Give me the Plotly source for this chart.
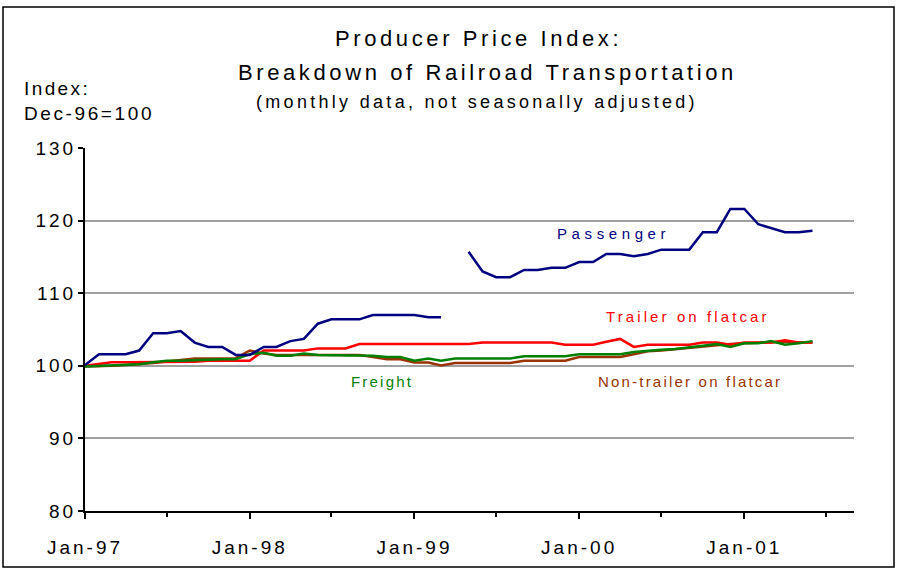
import pandas as pd
import plotly.graph_objects as go

# Monthly observations, Jan-97 through Jun-01 (index, Dec-96 = 100)
months = pd.date_range("1997-01-01", periods=54, freq="MS")

passenger = [
    100.1, 101.6, 101.6, 101.6, 102.1, 104.5, 104.5, 104.8, 103.2, 102.6, 102.6, 101.5,
    101.5, 102.6, 102.6, 103.4, 103.7, 105.8, 106.4, 106.4, 106.4, 107.0, 107.0, 107.0,
    107.0, 106.7, 106.7, None, 115.7, 113.0, 112.2, 112.2, 113.2, 113.2, 113.5, 113.5,
    114.3, 114.3, 115.4, 115.4, 115.1, 115.4, 116.0, 116.0, 116.0, 118.4, 118.4, 121.6,
    121.6, 119.5, 119.0, 118.4, 118.4, 118.6,
]
trailer_on_flatcar = [
    100.0, 100.25, 100.5, 100.5, 100.5, 100.5, 100.5, 100.5, 100.55, 100.7, 100.7, 100.7,
    100.7, 102.1, 102.1, 102.1, 102.1, 102.4, 102.4, 102.4, 103.0, 103.0, 103.0, 103.0,
    103.0, 103.0, 103.0, 103.0, 103.0, 103.2, 103.2, 103.2, 103.2, 103.2, 103.2, 102.9,
    102.9, 102.9, 103.3, 103.7, 102.6, 102.9, 102.9, 102.9, 102.9, 103.2, 103.2, 102.9,
    103.2, 103.2, 103.2, 103.5, 103.2, 103.2,
]
freight = [
    99.9, 100.0, 100.05, 100.1, 100.2, 100.5, 100.7, 100.7, 100.8, 100.9, 100.9, 100.9,
    101.6, 101.8, 101.4, 101.4, 101.7, 101.5, 101.5, 101.5, 101.5, 101.4, 101.2, 101.2,
    100.7, 101.0, 100.7, 101.0, 101.0, 101.0, 101.0, 101.0, 101.3, 101.3, 101.3, 101.3,
    101.6, 101.6, 101.6, 101.6, 101.9, 102.1, 102.2, 102.3, 102.5, 102.75, 103.0, 102.6,
    103.1, 103.1, 103.4, 102.9, 103.1, 103.4,
]
non_trailer_on_flatcar = [
    99.9, 99.9, 100.0, 100.1, 100.2, 100.4, 100.6, 100.8, 101.0, 101.0, 101.0, 101.05,
    102.1, 101.7, 101.5, 101.5, 101.5, 101.5, 101.5, 101.5, 101.5, 101.2, 100.9, 100.9,
    100.45, 100.45, 100.05, 100.4, 100.4, 100.4, 100.4, 100.4, 100.7, 100.7, 100.7, 100.7,
    101.2, 101.2, 101.2, 101.2, 101.6, 102.0, 102.1, 102.3, 102.4, 102.6, 102.8, 103.0,
    103.1, 103.2, 103.2, 103.3, 103.2, 103.2,
]

x_tick_dates = ["1997-01-01", "1998-01-01", "1999-01-01", "2000-01-01", "2001-01-01"]
x_tick_labels = ["Jan-97", "Jan-98", "Jan-99", "Jan-00", "Jan-01"]
y_ticks = [80, 90, 100, 110, 120, 130]

NAVY, RED, GREEN, BROWN = "#000080", "#ff0000", "#008000", "#993300"
FONT = "Liberation Sans, Arial, sans-serif"

W, H = 900, 570
L, R, T, B = 85, 854, 148, 511  # plot area in pixels


def px(xp):
    return (xp - L) / (R - L)


def py(yp):
    return (B - yp) / (B - T)


def spaced(text, sp):
    return f'<span style="letter-spacing:{sp}px">{text}</span>'


fig = go.Figure()
series = [
    (non_trailer_on_flatcar, BROWN, "Non-trailer on flatcar"),
    (trailer_on_flatcar, RED, "Trailer on flatcar"),
    (freight, GREEN, "Freight"),
    (passenger, NAVY, "Passenger"),
]
for vals, color, name in series:
    fig.add_trace(go.Scatter(
        x=months, y=vals, mode="lines", name=name,
        line=dict(color=color, width=2.5), connectgaps=False,
        hoverinfo="skip",
    ))

fig.update_layout(
    width=W, height=H,
    margin=dict(l=L, r=W - R, t=T, b=H - B, pad=0),
    paper_bgcolor="white", plot_bgcolor="white",
    showlegend=False,
    font=dict(family=FONT, color="black"),
)

fig.update_xaxes(
    type="date",
    range=["1997-01-01", "2001-09-01"],
    tickvals=x_tick_dates,
    ticktext=[spaced(t, 3) for t in x_tick_labels],
    tickfont=dict(size=19, family=FONT, color="black"),
    ticks="outside", ticklen=6, tickwidth=1.5, tickcolor="black",
    ticklabelstandoff=12,
    minor=dict(dtick="M6", tick0="1997-01-01", ticks="outside", ticklen=4,
               tickwidth=1.5, tickcolor="black", showgrid=False),
    showline=True, linecolor="black", linewidth=2,
    showgrid=False, zeroline=False,
)
fig.update_yaxes(
    range=[80, 130],
    tickvals=y_ticks,
    ticktext=[spaced(str(v), 3) for v in y_ticks],
    tickfont=dict(size=19, family=FONT, color="black"),
    ticks="outside", ticklen=5, tickwidth=1.5, tickcolor="black",
    ticklabelstandoff=-2,
    showline=True, linecolor="black", linewidth=2,
    showgrid=True, gridcolor="#a0a0a0", gridwidth=2,
    zeroline=False,
)

annotations = [
    # title block
    (478, 38, "Producer Price Index:", 22, 3.6, "black", "center"),
    (487, 72, "Breakdown of Railroad Transportation", 22, 3.6, "black", "center"),
    (477, 102, "(monthly data, not seasonally adjusted)", 18, 3.3, "black", "center"),
    # axis caption
    (22, 88, "Index:", 19, 2.4, "black", "left"),
    (22, 114, "Dec-96=100", 19, 2.6, "black", "left"),
    # series labels
    (613, 233, "Passenger", 15, 4.6, NAVY, "center"),
    (688, 316, "Trailer on flatcar", 15, 3.1, RED, "center"),
    (382, 381, "Freight", 15, 2.2, GREEN, "center"),
    (690, 381, "Non-trailer on flatcar", 15, 2.2, BROWN, "center"),
]
for x, y, text, size, sp, color, anchor in annotations:
    fig.add_annotation(
        x=px(x), y=py(y), xref="paper", yref="paper",
        text=spaced(text, sp), showarrow=False,
        xanchor=anchor, yanchor="middle",
        font=dict(size=size, family=FONT, color=color),
    )

# outer frame around the whole chart
fig.add_shape(
    type="rect", xref="paper", yref="paper",
    x0=px(3), x1=px(894), y0=py(567), y1=py(7),
    line=dict(color="black", width=1.5), fillcolor="rgba(0,0,0,0)",
    layer="below",
)

fig.write_html("out.html")
